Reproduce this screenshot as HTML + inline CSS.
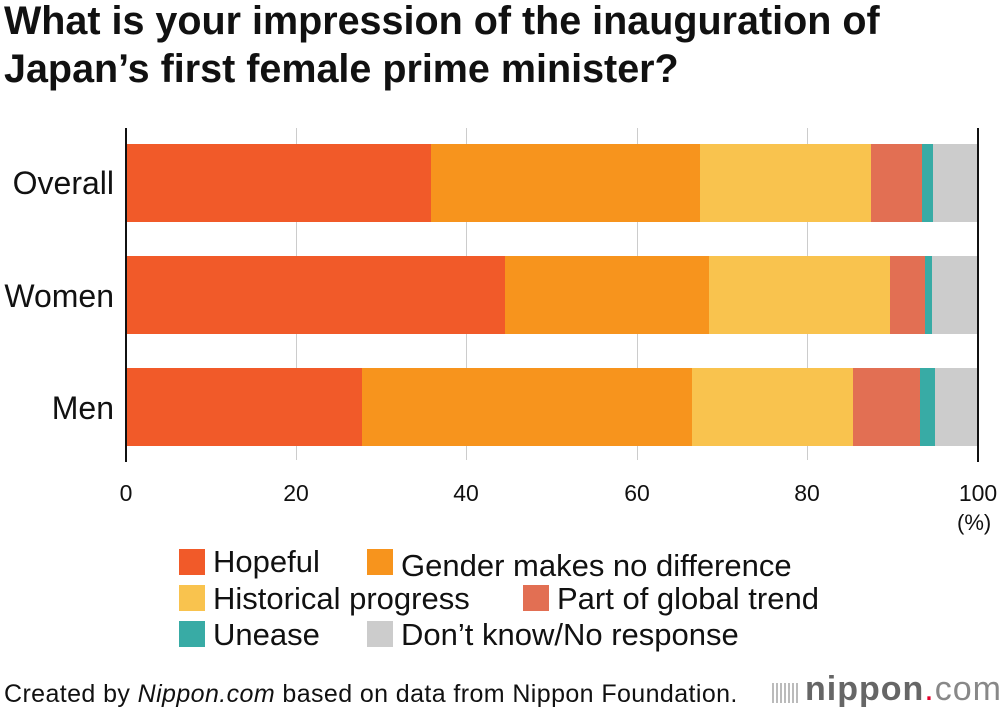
<!DOCTYPE html>
<html><head><meta charset="utf-8"><style>
body{margin:0;width:1000px;height:716px;background:#fff;position:relative;overflow:hidden;font-family:"Liberation Sans",Arial,sans-serif;color:#111}
.a{position:absolute;white-space:nowrap}
.t{font-weight:bold;font-size:39.5px;line-height:48px;left:4px;top:-3px}
.g{width:1px;background:#ccc;top:128px;height:332px}
.s{height:78px}
.lbl{font-size:32px;right:886px;text-align:right}
.tk{font-size:23px;top:480px;width:60px;text-align:center}
.lg{font-size:31px}
.sw{width:26px;height:26px}
</style></head><body>
<div class="a t">What is your impression of the inauguration of<br>Japan’s first female prime minister?</div>
<div class="a g" style="left:296px"></div>
<div class="a g" style="left:466px"></div>
<div class="a g" style="left:637px"></div>
<div class="a g" style="left:807px"></div>

<div class="a s" style="top:144px;left:126px;width:305px;background:#f15a29"></div>
<div class="a s" style="top:144px;left:431px;width:269px;background:#f7941d"></div>
<div class="a s" style="top:144px;left:700px;width:171px;background:#f9c34e"></div>
<div class="a s" style="top:144px;left:871px;width:51px;background:#e26f53"></div>
<div class="a s" style="top:144px;left:922px;width:11px;background:#38aba5"></div>
<div class="a s" style="top:144px;left:933px;width:45px;background:#cccccc"></div>

<div class="a s" style="top:256px;left:126px;width:379px;background:#f15a29"></div>
<div class="a s" style="top:256px;left:505px;width:204px;background:#f7941d"></div>
<div class="a s" style="top:256px;left:709px;width:181px;background:#f9c34e"></div>
<div class="a s" style="top:256px;left:890px;width:35px;background:#e26f53"></div>
<div class="a s" style="top:256px;left:925px;width:7px;background:#38aba5"></div>
<div class="a s" style="top:256px;left:932px;width:46px;background:#cccccc"></div>

<div class="a s" style="top:368px;left:126px;width:236px;background:#f15a29"></div>
<div class="a s" style="top:368px;left:362px;width:330px;background:#f7941d"></div>
<div class="a s" style="top:368px;left:692px;width:161px;background:#f9c34e"></div>
<div class="a s" style="top:368px;left:853px;width:67px;background:#e26f53"></div>
<div class="a s" style="top:368px;left:920px;width:15px;background:#38aba5"></div>
<div class="a s" style="top:368px;left:935px;width:43px;background:#cccccc"></div>

<div class="a" style="left:125px;top:128px;width:2px;height:334px;background:#111"></div>
<div class="a" style="left:977px;top:128px;width:2px;height:334px;background:#111"></div>

<div class="a lbl" style="top:165px">Overall</div>
<div class="a lbl" style="top:278px">Women</div>
<div class="a lbl" style="top:390px">Men</div>

<div class="a tk" style="left:96px">0</div>
<div class="a tk" style="left:266px">20</div>
<div class="a tk" style="left:436px">40</div>
<div class="a tk" style="left:607px">60</div>
<div class="a tk" style="left:777px">80</div>
<div class="a tk" style="left:948px">100</div>
<div class="a" style="font-size:22px;left:957px;top:510px">(%)</div>

<div class="a sw" style="left:179px;top:549px;background:#f15a29"></div>
<div class="a lg" style="left:213px;top:544px">Hopeful</div>
<div class="a sw" style="left:367px;top:549px;background:#f7941d"></div>
<div class="a lg" style="left:401px;top:548px">Gender makes no difference</div>
<div class="a sw" style="left:179px;top:585px;background:#f9c34e"></div>
<div class="a lg" style="left:213px;top:581px">Historical progress</div>
<div class="a sw" style="left:523px;top:585px;background:#e26f53"></div>
<div class="a lg" style="left:557px;top:581px">Part of global trend</div>
<div class="a sw" style="left:179px;top:621px;background:#38aba5"></div>
<div class="a lg" style="left:213px;top:617px">Unease</div>
<div class="a sw" style="left:367px;top:621px;background:#cccccc"></div>
<div class="a lg" style="left:401px;top:617px">Don’t know/No response</div>

<div class="a" style="left:4px;top:680px;font-size:25px;letter-spacing:0.4px">Created by <i>Nippon.com</i> based on data from Nippon Foundation.</div>
<div class="a" style="left:772px;top:683px;width:26px;height:20px;background:repeating-linear-gradient(90deg,#bbb 0 2px,transparent 2px 4px)"></div>
<div class="a" style="left:805px;top:670px;font-size:34px;color:#666;letter-spacing:1px"><b>nippon</b><span style="color:#e4002b">.</span><span style="color:#888">com</span></div>
</body></html>
